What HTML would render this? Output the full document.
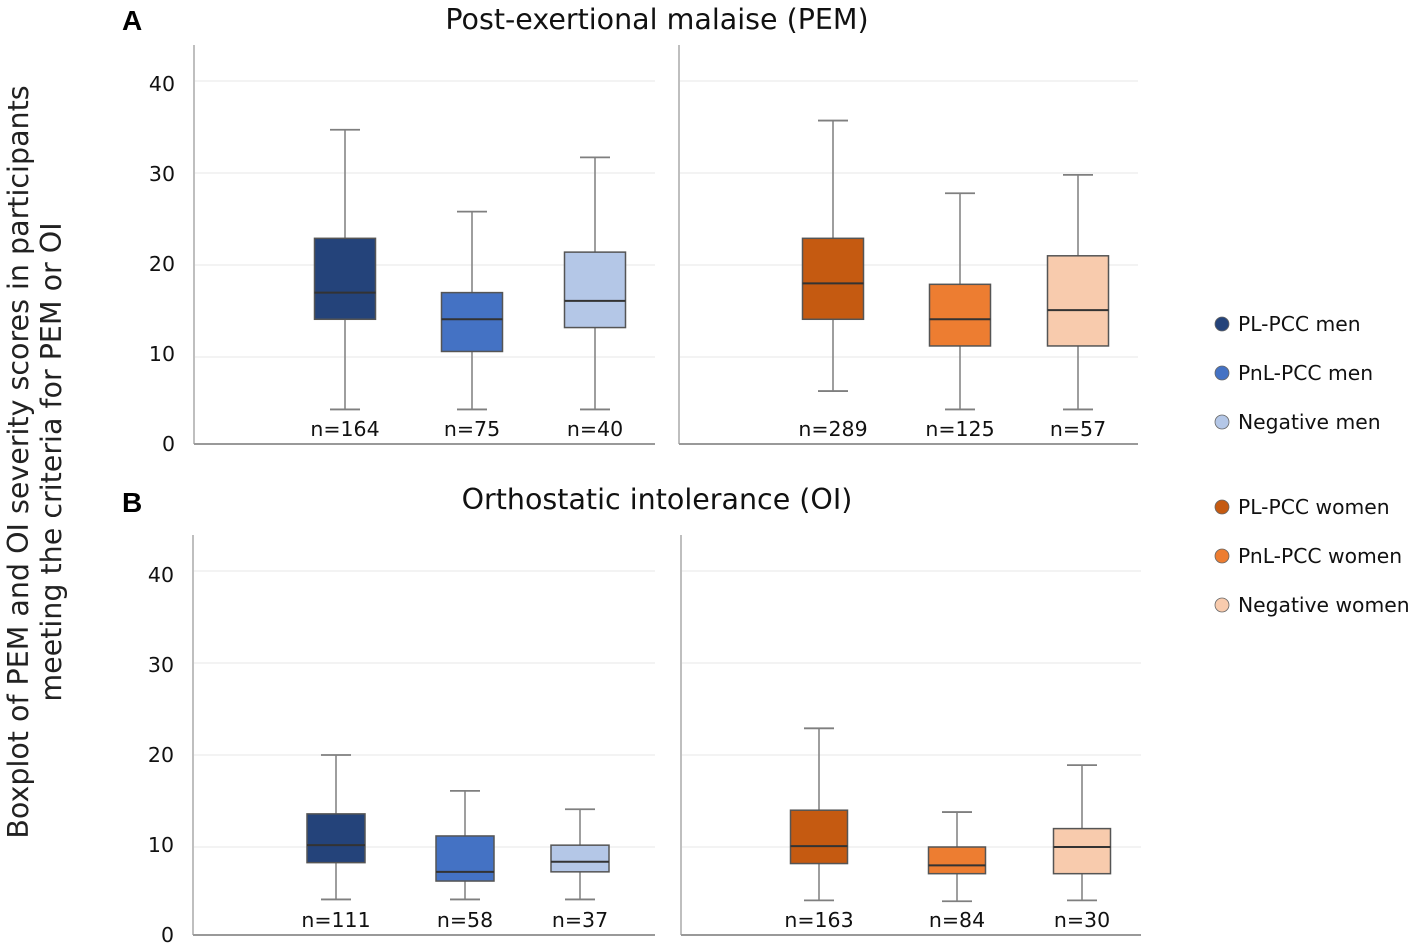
<!DOCTYPE html>
<html><head><meta charset="utf-8"><style>
body{margin:0;background:#fff;}
svg{display:block;font-family:"DejaVu Sans","Liberation Sans",sans-serif;}
</style></head><body>
<svg id="chart" width="1417" height="947" viewBox="0 0 1417 947">
<text x="20" y="462" font-size="28.5" fill="#222" text-anchor="middle" transform="rotate(-90 20 462)" dominant-baseline="middle">Boxplot of PEM and OI severity scores in participants</text>
<text x="53" y="462" font-size="28.5" fill="#222" text-anchor="middle" transform="rotate(-90 53 462)" dominant-baseline="middle">meeting the criteria for PEM or OI</text>
<text x="122" y="30" font-size="28" font-weight="bold" fill="#000" font-family="Liberation Sans, sans-serif">A</text>
<text x="122" y="512" font-size="28" font-weight="bold" fill="#000" font-family="Liberation Sans, sans-serif">B</text>
<text x="657" y="29" font-size="28.5" fill="#111" text-anchor="middle">Post-exertional malaise (PEM)</text>
<text x="657" y="509" font-size="28.5" fill="#111" text-anchor="middle">Orthostatic intolerance (OI)</text>
<g id="plots"></g>
<g id="legend"></g>
</svg>
<script>
const ticks=[0,10,20,30,40];
const groups=["PL-PCC men","PnL-PCC men","Negative men","PL-PCC women","PnL-PCC women","Negative women"];
const colors=["#24437a","#4472c4","#b4c7e7","#c55a11","#ed7d31","#f8cbad"];
// [whiskerLow, q1, median, q3, whiskerHigh]
const pemMen=[[4.3,14.1,17,22.9,34.7],[4.3,10.6,14.1,17,25.8],[4.3,13.2,16.1,21.4,31.7]];
const pemWomen=[[6.3,14.1,18,22.9,35.7],[4.3,11.2,14.1,17.9,27.8],[4.3,11.2,15.1,21,29.8]];
const oiMen=[[4.3,8.3,10.2,13.6,20],[4.3,6.3,7.3,11.2,16.1],[4.3,7.3,8.4,10.2,14.1]];
const oiWomen=[[4.2,8.2,10.1,14,22.9],[4.1,7.1,8,10,13.8],[4.2,7.1,10,12,18.9]];
const nPemMen=["n=164","n=75","n=40"], nPemWomen=["n=289","n=125","n=57"];
const nOiMen=["n=111","n=58","n=37"], nOiWomen=["n=163","n=84","n=30"];

const NS="http://www.w3.org/2000/svg";
const plots=document.getElementById('plots');
function mk(tag,attrs,parent,text){const e=document.createElementNS(NS,tag);for(const k in attrs)e.setAttribute(k,attrs[k]);if(text!==undefined)e.textContent=text;parent.appendChild(e);return e;}

function panel(cfg){
  const y=v=>cfg.y0-9.2*v;
  const g=mk('g',{},plots);
  
  
  ticks.forEach(t=>{
    if(t>0){const gl=mk('line',{x1:cfg.x0+1,x2:cfg.x1,y1:y(t),y2:y(t),stroke:'#ececec','stroke-width':1.2},g);
      
      }
    if(cfg.ticks){const tl=mk('text',{x:cfg.x0-19,y:cfg.base-9*t+7,'font-size':20.5,'text-anchor':'end',fill:'#111'},g,String(t));
      
      }
  });
  const ax=mk('line',{x1:cfg.x0,x2:cfg.x0,y1:cfg.top,y2:cfg.base,stroke:'#aaa','stroke-width':1.5},g);
  
  
  const bx=mk('line',{x1:cfg.x0,x2:cfg.x1,y1:cfg.base,y2:cfg.base,stroke:'#999','stroke-width':2},g);
  
  
  cfg.data.forEach((d,i)=>{
    const cx=cfg.cx[i],w=cfg.w;
    const b=mk('g',{},g);
    
    
    mk('line',{x1:cx,x2:cx,y1:y(d[0]),y2:y(d[4]),stroke:'#7f7f7f','stroke-width':1.5},b);
    mk('line',{x1:cx-15,x2:cx+15,y1:y(d[0]),y2:y(d[0]),stroke:'#7f7f7f','stroke-width':1.8},b);
    mk('line',{x1:cx-15,x2:cx+15,y1:y(d[4]),y2:y(d[4]),stroke:'#7f7f7f','stroke-width':1.8},b);
    mk('rect',{x:cx-w/2,y:y(d[3]),width:w,height:y(d[1])-y(d[3]),fill:cfg.colors[i],stroke:'#555','stroke-width':1.5},b);
    mk('line',{x1:cx-w/2,x2:cx+w/2,y1:y(d[2]),y2:y(d[2]),stroke:'#333','stroke-width':2},b);
    const nt=mk('text',{x:cx,y:cfg.base-8,'font-size':20.5,'text-anchor':'middle',fill:'#111'},g,cfg.n[i]);
    
    
  });
}
panel({name:'pem-men-plot',x0:194,x1:655,top:45,base:444,y0:449,ticks:true,cx:[345,472,595],w:61,data:pemMen,colors:colors.slice(0,3),labels:groups.slice(0,3),n:nPemMen});
panel({name:'pem-women-plot',x0:679,x1:1138,top:45,base:444,y0:449,ticks:false,cx:[833,960,1078],w:61,data:pemWomen,colors:colors.slice(3),labels:groups.slice(3),n:nPemWomen});
panel({name:'oi-men-plot',x0:193,x1:655,top:535,base:935,y0:939,ticks:true,cx:[336,465,580],w:58,data:oiMen,colors:colors.slice(0,3),labels:groups.slice(0,3),n:nOiMen});
panel({name:'oi-women-plot',x0:681,x1:1141,top:535,base:935,y0:939,ticks:false,cx:[819,957,1082],w:57,data:oiWomen,colors:colors.slice(3),labels:groups.slice(3),n:nOiWomen});

const lg=document.getElementById('legend');
const ly=[324,373,422,507,556,605];
groups.forEach((gname,i)=>{
  const e=mk('g',{},lg);
  
  
  mk('circle',{cx:1222,cy:ly[i],r:7,fill:colors[i],stroke:'#666','stroke-width':0.8},e);
  mk('text',{x:1238,y:ly[i]+7,'font-size':20.3,fill:'#111'},e,gname);
});
</script>
</body></html>
